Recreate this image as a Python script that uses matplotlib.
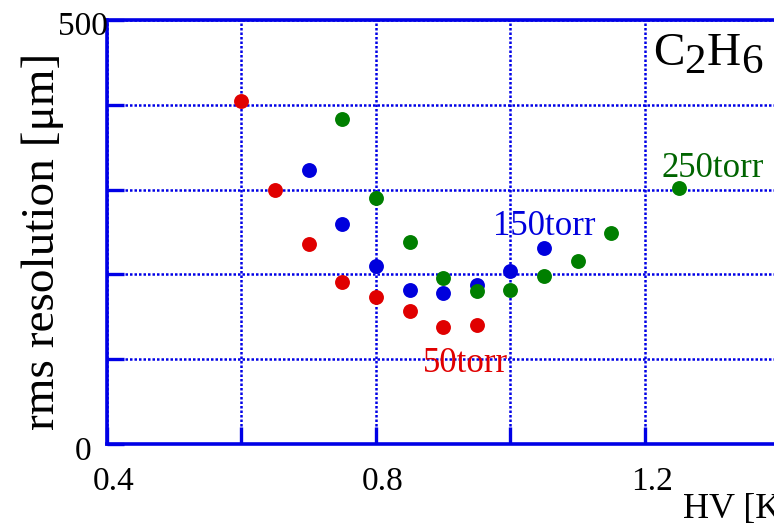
import matplotlib
matplotlib.use('Agg')
import matplotlib.pyplot as plt
from matplotlib.transforms import offset_copy, ScaledTranslation

plt.rcParams['font.family'] = ['Liberation Serif', 'DejaVu Serif']

# resolution vs. high voltage for three pressures
HV_50 = [0.60, 0.65, 0.70, 0.75, 0.80, 0.85, 0.90, 0.95]
RES_50 = [405, 300, 236, 191, 173, 157, 138, 140]
HV_150 = [0.70, 0.75, 0.80, 0.85, 0.90, 0.95, 1.00, 1.05]
RES_150 = [323, 259, 210, 182, 178, 187, 204, 231]
HV_250 = [0.75, 0.80, 0.85, 0.90, 0.95, 1.00, 1.05, 1.10, 1.15, 1.25]
RES_250 = [383, 290, 238, 196, 180, 182, 198, 216, 249, 302]

X_TICKS = [0.4, 0.6, 0.8, 1.0, 1.2, 1.4, 1.6]
X_TICK_LABELS = ['0.4', '', '0.8', '', '1.2', '', '']
Y_TICKS = [0, 100, 200, 300, 400, 500]

RED = '#e00000'
BLUE = '#0000dd'
GREEN = '#007f00'
DARK_GREEN = '#006400'
FRAME = '#0000e6'

fig = plt.figure(figsize=(7.74, 5.24), dpi=100)
# the frame runs past the right edge of the canvas
ax = fig.add_axes([0.1382, 0.1527, 1.0426, 0.8092])

for hv, res, col in [(HV_50, RES_50, RED), (HV_150, RES_150, BLUE),
                     (HV_250, RES_250, GREEN)]:
    ax.scatter(hv, res, s=115, color=col, zorder=3, linewidths=0)

ax.set_xlim(0.4, 1.6)
ax.set_ylim(0, 500)
ax.set_xticks(X_TICKS)
ax.set_xticklabels(X_TICK_LABELS)
ax.set_yticks(Y_TICKS)
ax.set_yticklabels([''] * len(Y_TICKS))

ax.grid(True, color=FRAME, linestyle=(0, (1, 0.8)), linewidth=1.8)
ax.tick_params(direction='in', length=12, width=2.4, color=FRAME,
               labelsize=24)
ax.tick_params(axis='x', pad=16)
for sp in ax.spines.values():
    sp.set_color(FRAME)
    sp.set_linewidth(2.6)

# ROOT puts the x labels a little right of their ticks
nudge = ScaledTranslation(7 / 100, 0, fig.dpi_scale_trans)
for lab in ax.get_xticklabels():
    lab.set_transform(lab.get_transform() + nudge)

# end labels of the y axis, ROOT style
ytr = ax.get_yaxis_transform()
ax.text(0, 500, '500', ha='right', va='center', fontsize=24,
        transform=offset_copy(ytr, fig=fig, x=1, y=-7, units='dots'))
ax.text(0, 0, '0', ha='right', va='center', fontsize=24,
        transform=offset_copy(ytr, fig=fig, x=-16, y=-8, units='dots'))

ax.set_ylabel('rms resolution [μm]', fontsize=34)
ax.yaxis.set_label_coords(-0.053, 0.479)
fig.text(683 / 774, 1 - 518 / 524, 'HV [KV]', fontsize=26, ha='left',
         va='baseline')

# gas name with lowered, slightly smaller subscripts
gas_parts = [('C', 34, 0, 0), ('2', 31, 22.6, -6), ('H', 34, 38.6, 0),
             ('6', 31, 63.6, -6)]
for s, size, dx, dy in gas_parts:
    ax.text(1.212, 447, s, fontsize=size, ha='left', va='baseline',
            transform=offset_copy(ax.transData, fig=fig, x=dx, y=dy,
                                  units='points'))

ax.text(0.870, 85, '50torr', color=RED, fontsize=25, ha='left',
        va='baseline')
ax.text(0.974, 246, '150torr', color=BLUE, fontsize=25, ha='left',
        va='baseline')
ax.text(1.225, 315, '250torr', color=DARK_GREEN, fontsize=25, ha='left',
        va='baseline')

fig.savefig('out.png', dpi=100)
